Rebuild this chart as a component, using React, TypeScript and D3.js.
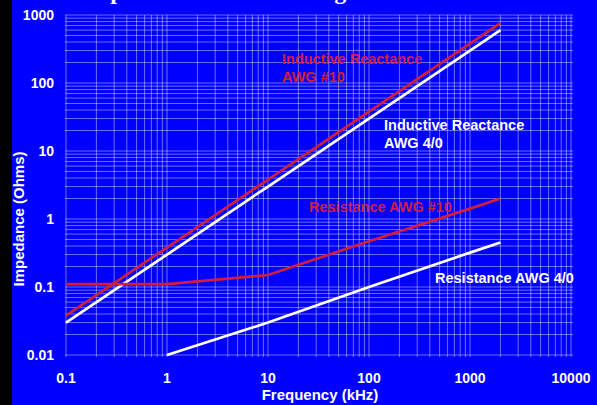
import * as d3 from "d3";

const W = 597;
const H = 405;

// frequency in kHz, impedance in ohms
const freqInd = [0.1, 1, 10, 100, 1000, 2000];
const indAwg10 = [0.038, 0.38, 3.8, 38, 380, 760];
const indAwg40 = [0.03, 0.3, 3, 30, 300, 600];

const freqRes10 = [0.1, 1, 10, 100, 1000, 2000];
const resAwg10 = [0.11, 0.11, 0.15, 0.47, 1.42, 2.0];

const freqRes40 = [1, 10, 100, 1000, 2000];
const resAwg40 = [0.01, 0.03, 0.1, 0.32, 0.45];

const xTickLabels = ["0.1", "1", "10", "100", "1000", "10000"];
const yTickLabels = ["0.01", "0.1", "1", "10", "100", "1000"];

const RED = "#d01f3d";
const WHITE = "#ffffff";
const BLUE = "#0000ff";
const SANS = "'Liberation Sans', Arial, sans-serif";

interface SeriesDef {
  xs: number[];
  ys: number[];
  color: string;
}

const series: SeriesDef[] = [
  { xs: freqInd, ys: indAwg10, color: RED },
  { xs: freqInd, ys: indAwg40, color: WHITE },
  { xs: freqRes10, ys: resAwg10, color: RED },
  { xs: freqRes40, ys: resAwg40, color: WHITE },
];

export default function App() {
  const x = d3.scaleLog().domain([0.1, 10000]).range([66, 571]);
  const y = d3.scaleLog().domain([0.01, 1000]).range([355, 15]);

  const xGrid = x.ticks();
  const yGrid = y.ticks();

  const line = d3
    .line<[number, number]>()
    .x((d) => x(d[0]))
    .y((d) => y(d[1]));

  return (
    <div style={{ position: "fixed", left: 0, top: 0 }}>
      <svg width={W} height={H} style={{ display: "block" }}>
        <rect x={0} y={0} width={W} height={H} fill={BLUE} />
        <rect x={0} y={0} width={12} height={H} fill="#000" />

        {/* title sits mostly above the frame, as in the source image */}
        <text
          x={81}
          y={-1}
          fill={WHITE}
          fontFamily="'Liberation Serif', 'Times New Roman', serif"
          fontWeight="bold"
          fontSize={24}
        >
          Impedance vs. Wire Gauge
        </text>

        <g stroke="#ffffff" strokeOpacity={0.42} strokeWidth={1}>
          {xGrid.map((t, i) => (
            <line key={"vx" + i} x1={x(t)} x2={x(t)} y1={15} y2={357} />
          ))}
          {yGrid.map((t, i) => (
            <line key={"hy" + i} x1={65} x2={573} y1={y(t)} y2={y(t)} />
          ))}
        </g>

        <g fill={WHITE} fontFamily={SANS} fontWeight="bold" fontSize={14}>
          {xTickLabels.map((s) => (
            <text key={"xl" + s} x={x(+s)} y={383} textAnchor="middle">
              {s}
            </text>
          ))}
          {yTickLabels.map((s) => (
            <text key={"yl" + s} x={54} y={y(+s) + 5} textAnchor="end">
              {s}
            </text>
          ))}
          <text x={320} y={400} textAnchor="middle" fontSize={15}>
            Frequency (kHz)
          </text>
          <text
            transform="translate(24,219) rotate(-90)"
            textAnchor="middle"
            fontSize={15}
          >
            Impedance (Ohms)
          </text>
        </g>

        {series.map((s, i) => (
          <path
            key={"s" + i}
            d={line(s.xs.map((f, j) => [f, s.ys[j]] as [number, number])) ?? ""}
            fill="none"
            stroke={s.color}
            strokeWidth={2.7}
          />
        ))}

        <g fontFamily={SANS} fontWeight="bold" fontSize={14.5}>
          <text x={282} y={64} fill={RED}>Inductive Reactance</text>
          <text x={282} y={82} fill={RED}>AWG #10</text>
          <text x={384} y={130} fill={WHITE}>Inductive Reactance</text>
          <text x={384} y={148} fill={WHITE}>AWG 4/0</text>
          <text x={309} y={212} fill={RED}>Resistance AWG #10</text>
          <text x={435} y={283} fill={WHITE}>Resistance AWG 4/0</text>
        </g>
      </svg>
    </div>
  );
}
